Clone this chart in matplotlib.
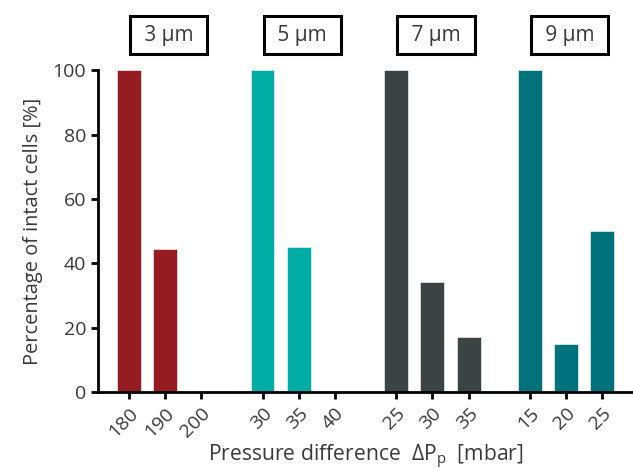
import numpy as np
import matplotlib
matplotlib.use("Agg")
import matplotlib.pyplot as plt

# Data
groups = ["3 µm", "5 µm", "7 µm", "9 µm"]
pressures = [["180", "190", "200"], ["30", "35", "40"], ["25", "30", "35"], ["15", "20", "25"]]
intact = [[100, 44.5, 0], [100, 45, 0], [100, 34, 17], [100, 15, 50]]
colors = ["#951d22", "#00ada5", "#3b4443", "#00727c"]

plt.rcParams['font.family'] = ['Open Sans', 'DejaVu Sans']
plt.rcParams['mathtext.fontset'] = 'custom'
plt.rcParams['mathtext.rm'] = 'Open Sans'
plt.rcParams['mathtext.it'] = 'Open Sans'
text_color = "#3a3a3a"

fig = plt.figure(figsize=(6.33, 4.71), dpi=100)
ax = fig.add_axes([0.155, 0.168, 0.845, 0.683])

group_step = 3.69
xpos, xlabels = [], []
for g, (labels, vals, c) in enumerate(zip(pressures, intact, colors)):
    x = g * group_step + np.arange(len(vals))
    ax.bar(x, vals, width=0.66, color=c, edgecolor="white", linewidth=0.4)
    xpos.extend(x)
    xlabels.extend(labels)
    ax.text(x[1] + 0.1, 1.109, " " + groups[g] + " ", transform=ax.get_xaxis_transform(),
            ha="center", va="center", fontsize=15, color=text_color,
            bbox=dict(boxstyle="square,pad=0.42", fc="white", ec="black", lw=2.2),
            clip_on=False)

ax.set_xlim(-0.85, 3 * group_step + 2 + 0.85)
ax.set_ylim(0, 100)
ax.set_yticks([0, 20, 40, 60, 80, 100])
ax.set_xticks(xpos)
ax.set_xticklabels(xlabels, rotation=45, ha="right", rotation_mode="anchor")

for s in ["top", "right"]:
    ax.spines[s].set_visible(False)
for s in ["left", "bottom"]:
    ax.spines[s].set_linewidth(2)
ax.tick_params(axis="both", width=2, length=5, labelsize=14, labelcolor=text_color)
ax.tick_params(axis="x", pad=4)

ax.set_ylabel("Percentage of intact cells [%]", fontsize=14.4, color=text_color, labelpad=7)
ax.set_xlabel(r"Pressure difference  ΔP$_\mathrm{p}$  [mbar]", fontsize=15.2, color=text_color, labelpad=1.5)

fig.savefig("out.png", dpi=100)
